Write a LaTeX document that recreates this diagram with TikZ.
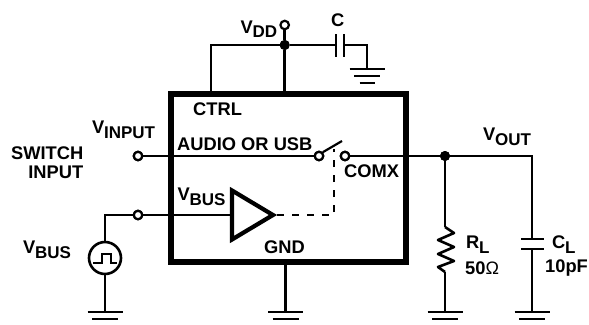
\documentclass[tikz,border=0pt]{standalone}
\usepackage{fontspec}
\setmainfont{Liberation Sans}[BoldFont={Liberation Sans Bold}]
\newcommand{\lbl}[2]{{\fontsize{18.3}{20}\selectfont\bfseries #1\kern-0.3pt\raisebox{-5pt}{\fontsize{17}{20}\selectfont #2}}}
\newcommand{\txt}[1]{{\fontsize{18.3}{20}\selectfont\bfseries #1}}
\tikzset{
  wire/.style={line width=2.6pt,line cap=butt,line join=miter},
  chip/.style={line width=5.6pt,line join=miter},
  open/.style={circle,draw,line width=2.2pt,fill=white,minimum size=8.5pt,inner sep=0pt},
  dot/.style={circle,fill=black,minimum size=10pt,inner sep=0pt},
  pt/.style={coordinate},
  tag/.style={inner sep=0pt,anchor=base west},
  gnd/.pic={
    \draw[line width=2.8pt] (-17.5,0) -- (17.5,0);
    \draw[line width=2.8pt] (-13,7) -- (13,7);
    \draw[line width=2.8pt] (-7.5,14) -- (7.5,14);
  }
}
\begin{document}
\begin{tikzpicture}[x=1pt,y=-1pt]
\useasboundingbox (0,0) rectangle (589,324);
\begin{scope}
\clip (0,0) rectangle (589,324);
% named points
\node[pt] (vddtop) at (284.7,25) {};
\node[dot] (vddj) at (284.7,45) {};
\node[pt] (ctrlc) at (211,45) {};
\node[pt] (ctrlb) at (211,94) {};
\node[pt] (vddb) at (284.7,94) {};
\node[pt] (capa) at (336,45) {};
\node[pt] (capb) at (344,45) {};
\node[pt] (capc) at (367,45) {};
\node[pt] (capg) at (367,69) {};
\node[open] (inpin) at (138,156) {};
\node[open] (swl) at (319,156) {};
\node[open] (swr) at (345,156) {};
\node[dot] (outj) at (445,156) {};
\node[pt] (outc) at (532,156) {};
\node[pt] (rtop) at (445,227) {};
\node[pt] (rbot) at (445,272) {};
\node[pt] (rgnd) at (445,312) {};
\node[pt] (ctop) at (532,239) {};
\node[pt] (cbot) at (532,249) {};
\node[pt] (cgnd) at (532,312) {};
\node[open] (buspin) at (138,215) {};
\node[pt] (buscorner) at (105,215) {};
\node[circle,draw,line width=2.6pt,minimum size=32pt,inner sep=0pt] (src) at (105,258) {};
\node[pt] (srcgnd) at (105,312) {};
\node[pt] (tril) at (232,215) {};
\node[pt] (trir) at (277,215) {};
\node[pt] (dashc) at (334,215) {};
\node[pt] (dashe) at (334,149) {};
\node[pt] (gndt) at (285.7,262) {};
\node[pt] (gndb) at (285.7,312) {};
% wires
\draw[wire] (ctrlb) -- (ctrlc) -- (vddj);
\draw[wire] (vddb) -- (vddj) -- (vddtop);
\draw[wire] (vddj) -- (capa);
\draw[wire] (capb) -- (capc) -- (capg);
\draw[line width=2.8pt] (336,34) -- (336,57) (344,34) -- (344,57);
\pic at (capg) {gnd};
\draw[wire] (inpin) -- (swl);
\draw[wire] (swr) -- (outc) -- (ctop);
\draw[wire] (outj) -- (rtop);
\draw[wire] (rbot) -- (rgnd);
\draw[wire,line join=round] (rtop) -- (454,233) -- (438,240) -- (454,247) -- (438,254) -- (454,261) -- (438,267) -- (rbot);
\draw[wire] (cbot) -- (cgnd);
\draw[line width=2.8pt] (521,239) -- (544,239) (521,249) -- (544,249);
\pic at (rgnd) {gnd};
\pic at (cgnd) {gnd};
\draw[wire] (buspin) -- (tril);
\draw[wire] (src) -- (buscorner) -- (buspin);
\draw[wire] (src) -- (srcgnd);
\pic at (srcgnd) {gnd};
\draw[wire] (gndt) -- (gndb);
\pic at (gndb) {gnd};
% chip
\draw[chip] (171,94) rectangle (406,262);
% amp
\draw[line width=4.2pt,fill=white,line join=miter] (232,190.5) -- (273,215) -- (232,239.5) -- cycle;
\draw[wire,dash pattern=on 7pt off 8pt,line join=miter] (trir) -- (dashc) -- (dashe);
% switch blade
\draw[line width=2.2pt] (swl.north east) -- (342,141);
\node[open] at (swl) {};
\node[open] at (swr) {};
\node[open] at (inpin) {};
\node[open] at (buspin) {};
\node[open] (vddpin) at (vddtop) {};
\node[dot] at (vddj) {};
\node[dot] at (outj) {};
% pulse
\draw[line width=2.2pt] (93,263) -- (102,263) -- (102,254) -- (111,254) -- (111,263) -- (117,263);
% labels
\node[tag] (tvdd) at (240.5,33) {\lbl{V}{DD}};
\node[tag] (tc) at (331,26) {\txt{C}};
\node[tag] (tctrl) at (193,115) {\txt{CTRL}};
\node[tag] (tvin) at (92,133) {\lbl{V}{INPUT}};
\node[tag] (taudio) at (177,150) {\txt{AUDIO OR USB}};
\node[inner sep=0pt,anchor=base east] (tsw1) at (83.5,159) {\txt{SWITCH}};
\node[inner sep=0pt,anchor=base east] (tsw2) at (83.5,178) {\txt{INPUT}};
\node[tag] (tcomx) at (344,177) {\txt{COMX}};
\node[tag] (tvout) at (483,140.5) {\lbl{V}{OUT}};
\node[tag] (tvb1) at (177.5,200) {\lbl{V}{BUS}};
\node[tag] (tvb2) at (23,253) {\lbl{V}{BUS}};
\node[tag] (tgnd) at (264,253) {\txt{GND}};
\node[tag] (trl) at (466,248) {\lbl{R}{L}};
\node[tag] (t50) at (465,274) {\txt{50}{\fontsize{18}{20}\selectfont\fontspec{Liberation Sans}Ω}};
\node[tag] (tcl) at (552,248) {\lbl{C}{L}};
\node[tag] (t10) at (545,272) {\txt{10pF}};
\end{scope}
\end{tikzpicture}
\end{document}
